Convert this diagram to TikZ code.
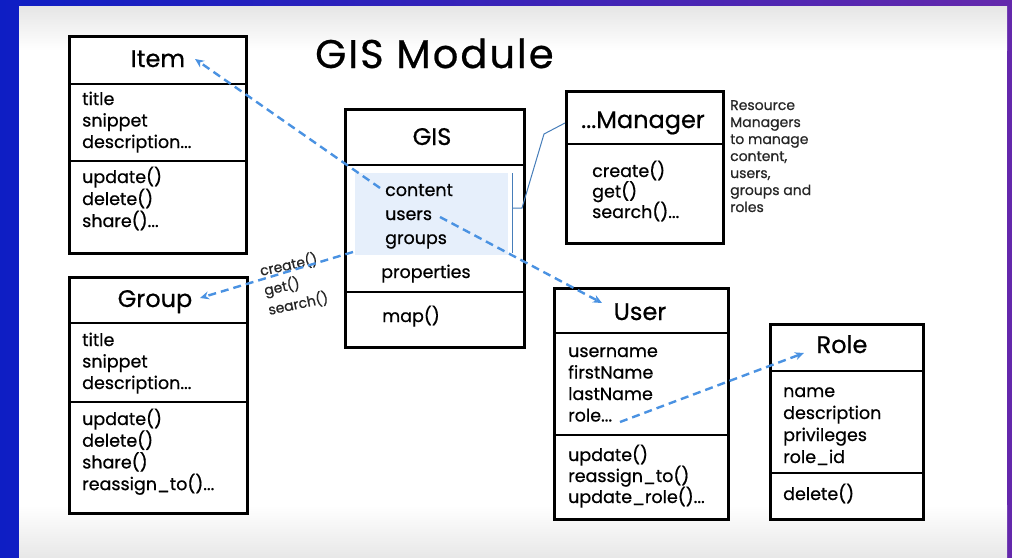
\documentclass[tikz,border=0pt]{standalone}
\usepackage{fontspec}
\setmainfont{Poppins}[FakeBold=0.6]
\usetikzlibrary{arrows.meta}
\definecolor{bgL}{RGB}{14,30,196}
\definecolor{bgR}{RGB}{100,40,172}
\definecolor{dashblue}{RGB}{74,146,226}
\definecolor{hl}{RGB}{230,239,251}
\definecolor{connblue}{RGB}{70,125,185}
\newcommand{\tdots}{...}
\begin{document}
\begin{tikzpicture}[x=1pt,y=-1pt,
  box/.style={draw=black,line width=2.5pt,fill=white,anchor=north west,inner sep=0pt},
  div/.style={line width=1.3pt,black},
  txt/.style={anchor=base west,inner sep=0pt,font=\fontsize{17.5}{20}\selectfont},
  ttl/.style={anchor=base,inner sep=0pt,font=\fontsize{24}{26}\selectfont},
  note/.style={anchor=base west,inner sep=0pt,font=\fontsize{14}{16}\selectfont,text=black!85},
  lbl/.style={inner sep=0pt,font=\fontsize{14}{20}\selectfont,text=black!85,rotate=12,align=left},
  dep/.style={dashblue,line width=2.4pt,dash pattern=on 8pt off 5pt,-{Stealth[length=9pt,width=8pt]}},
  conn/.style={connblue,line width=1pt},
]
\useasboundingbox (0,0) rectangle (1012,557);
% background
\fill[left color=bgL,right color=bgR] (0,0) rectangle (1012,557);
\fill[top color=black!10,bottom color=white] (19,6) rectangle (1007,50);
\fill[white] (19,50) rectangle (1007,505);
\fill[top color=white,bottom color=black!9] (19,505) rectangle (1007,557);

% title
\node[inner sep=0pt,anchor=base west,font=\fontsize{40}{44}\selectfont\addfontfeature{LetterSpace=5}] (title) at (315,68) {GIS Module};

% boxes
\node[box,minimum width=177pt,minimum height=217pt] (item) at (68,35) {};
\node[box,minimum width=178pt,minimum height=236pt] (group) at (68,276) {};
\node[box,minimum width=179pt,minimum height=238pt] (gis) at (344,108) {};
\node[box,minimum width=157pt,minimum height=152pt] (mgr) at (565,90) {};
\node[box,minimum width=174pt,minimum height=231pt] (user) at (553,287) {};
\node[box,minimum width=153pt,minimum height=195pt] (role) at (769,323) {};

% highlight in GIS
\fill[hl] (355,173) rectangle (508,255);

% dividers
\draw[div] (68,84) -- (245,84);
\draw[div] (68,161) -- (245,161);
\draw[div] (68,323) -- (246,323);
\draw[div] (68,402) -- (246,402);
\draw[div] (344,165) -- (523,165);
\draw[div] (344,292) -- (523,292);
\draw[div] (565,144) -- (722,144);
\draw[div] (553,333) -- (727,333);
\draw[div] (553,435) -- (727,435);
\draw[div] (769,371) -- (922,371);
\draw[div] (769,473) -- (922,473);

% titles
\node[ttl] (itemT) at (158,67) {Item};
\node[ttl] (groupT) at (155,307) {Group};
\node[ttl] (gisT) at (432,145) {GIS};
\node[ttl] (mgrT) at (643,128) {...Manager};
\node[ttl] (userT) at (640,320) {User};
\node[ttl] (roleT) at (842,353) {Role};

% Item
\foreach \t [count=\i from 0] in {title,snippet,description\tdots}
  \node[txt] (itemA\i) at (82,105+21.5*\i) {\t};
\foreach \t [count=\i from 0] in {update(),delete(),share()\tdots}
  \node[txt] (itemM\i) at (82,183+22*\i) {\t};

% Group
\foreach \t [count=\i from 0] in {title,snippet,description\tdots}
  \node[txt] (groupA\i) at (82,346+21.5*\i) {\t};
\foreach \t [count=\i from 0] in {update(),delete(),share(),reassign\_to()\tdots}
  \node[txt] (groupM\i) at (82,425+21.7*\i) {\t};

% GIS
\node[txt] (gisC) at (385,196) {content};
\node[txt] (gisU) at (385,220) {users};
\node[txt] (gisG) at (385,244) {groups};
\node[txt] (gisP) at (381,278) {properties};
\node[txt] (gisM) at (382,322) {map()};

% bracket and connector to manager
\draw[conn] (512,173) -- (512,253);
\coordinate (brk0) at (512,208);
\coordinate (brk) at (522,208);
\coordinate (mgrL) at (565,123);
\draw[conn] (brk0) -- (brk) -- (544,134) -- (mgrL);

% Manager
\foreach \t [count=\i from 0] in {create(),get(),search()\tdots}
  \node[txt] (mgrM\i) at (592,177+20.5*\i) {\t};
\foreach \t [count=\i from 0] in {Resource,Managers,to manage,{content,},{users,},groups and,roles}
  \node[note] (noteL\i) at (730,110+17*\i) {\t};

% User
\foreach \t [count=\i from 0] in {username,firstName,lastName,role\tdots}
  \node[txt] (userA\i) at (568,357+21.5*\i) {\t};
\foreach \t [count=\i from 0] in {update(),reassign\_to(),update\_role()\tdots}
  \node[txt] (userM\i) at (568,461+21*\i) {\t};

% Role
\foreach \t [count=\i from 0] in {name,description,privileges,role\_id}
  \node[txt] (roleA\i) at (783,397+22*\i) {\t};
\node[txt] (roleM0) at (783,500) {delete()};

% label on group arrow
\node[lbl] (lblCGS) at (294,284) {create()\\get()\\search()};

% dependency arrows
\coordinate (s1) at (380,188);
\coordinate (t1) at (195,59);
\coordinate (s2) at (440,217);
\coordinate (t2) at (602,303);
\coordinate (s3) at (353,252);
\coordinate (t3) at (200,298);
\coordinate (s4) at (620,422);
\coordinate (t4) at (804,353);
\draw[dep] (s1) -- (t1);
\draw[dep] (s2) -- (t2);
\draw[dep] (s3) -- (t3);
\draw[dep] (s4) -- (t4);
\end{tikzpicture}
\end{document}
